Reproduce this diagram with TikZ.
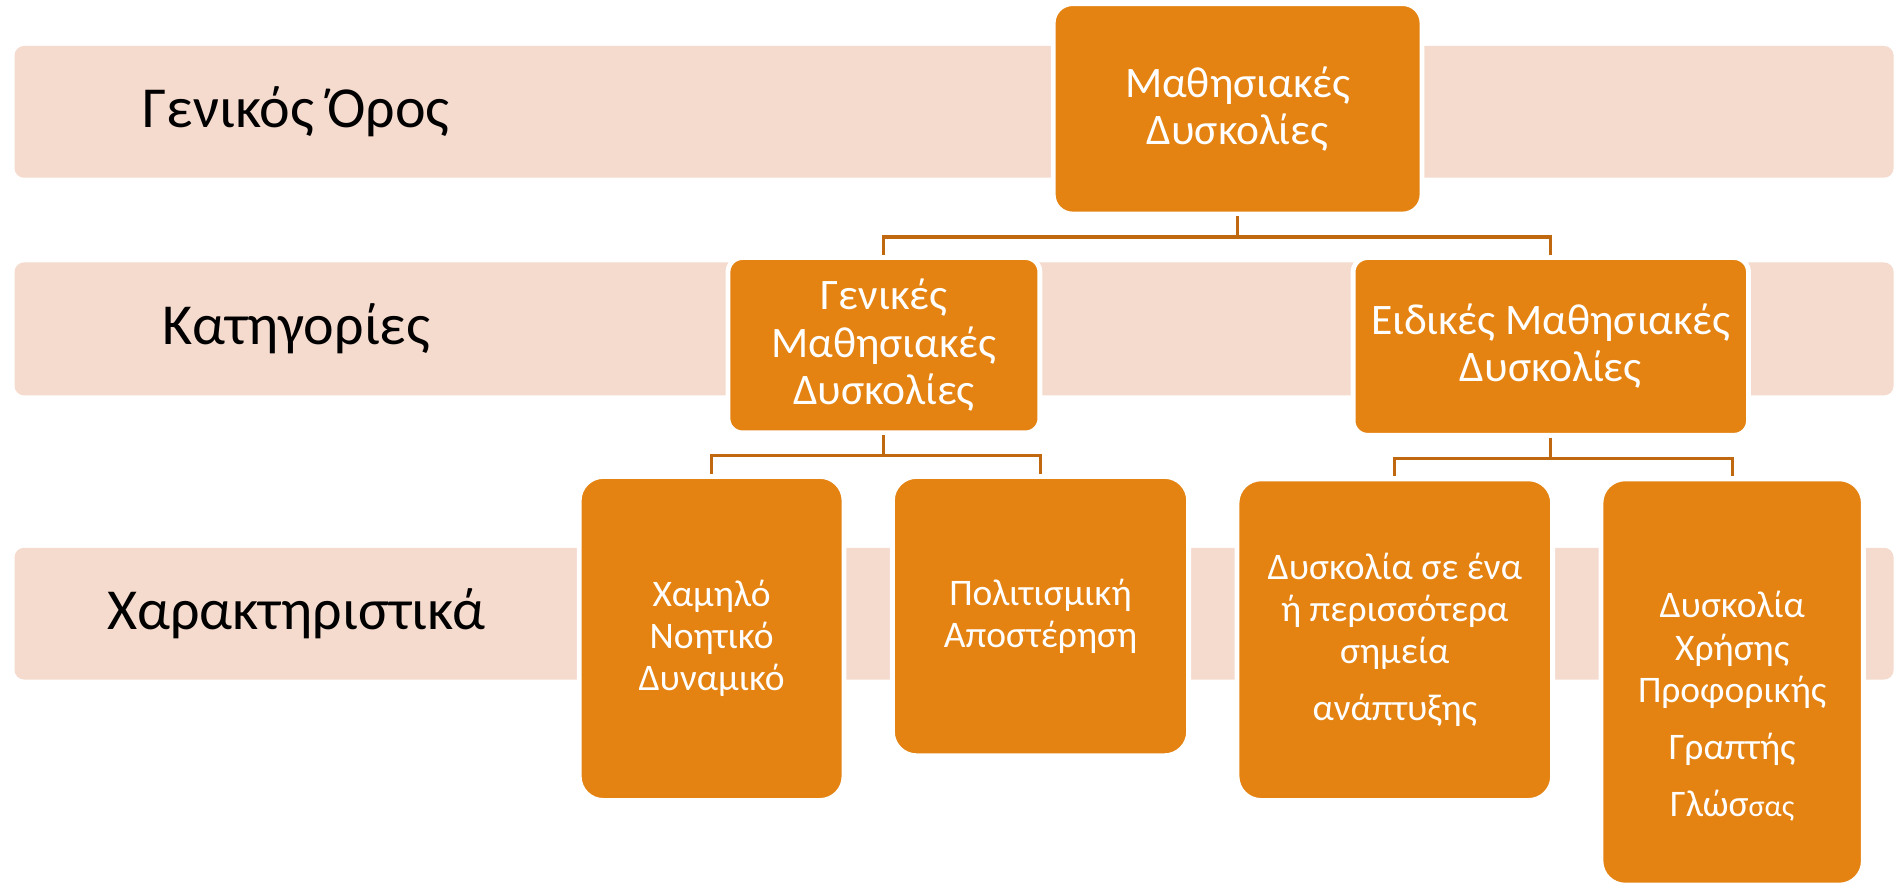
\documentclass[tikz,border=0pt]{standalone}
\usepackage{fontspec}
\setmainfont{Carlito}
\definecolor{boxorange}{HTML}{E48312}
\definecolor{bandpink}{HTML}{F5DACE}
\definecolor{linkbrown}{HTML}{C0680F}

\begin{document}
\begin{tikzpicture}[x=0.5pt,y=-0.5pt,
every node/.style={align=center},
band/.style={fill=bandpink, rounded corners=4pt},
rowlabel/.style={font=\fontsize{24}{28}\selectfont, text=black},
bigbox/.style={fill=boxorange, draw=white, line width=2pt, rounded corners=6pt, text=white, inner sep=0pt, font=\fontsize{18}{19.5}\selectfont},
leafbox/.style={bigbox, rounded corners=10pt, font=\fontsize{15.5}{17.5}\selectfont},
leaftext/.style={text=white, inner sep=0pt, font=\fontsize{15.5}{17.5}\selectfont},
link/.style={draw=linkbrown, line width=1.3pt}
]
\useasboundingbox (0,0) rectangle (1568,732);

% rows
\fill[band] (12,38) rectangle (1566,147);
\fill[band] (12,217) rectangle (1566,327);
\fill[band] (12,453) rectangle (1566,562);
\node[rowlabel] (lterm) at (245,92.5) {Γενικός Όρος};
\node[rowlabel] (lcat) at (245,272) {Κατηγορίες};
\node[rowlabel] (lfeat) at (245,507.5) {Χαρακτηριστικά};

% top
\node[bigbox, rounded corners=8pt, minimum width=152.5pt, minimum height=87pt] (term) at (1023.5,90) {Μαθησιακές\\Δυσκολίες};

% categories
\node[bigbox, minimum width=129pt, minimum height=72.5pt] (gen) at (731,285.5) {Γενικές\\Μαθησιακές\\Δυσκολίες};
\node[bigbox, minimum width=163.5pt, minimum height=73.5pt] (spec) at (1282.5,286.5) {Ειδικές Μαθησιακές\\Δυσκολίες};

% features
\node[leafbox, minimum width=109.5pt, minimum height=134pt] (lowiq) at (588.5,528) {Χαμηλό\\Νοητικό\\Δυναμικό};
\node[leafbox, minimum width=122.5pt, minimum height=115.5pt] (cult) at (860.5,509.5) {Πολιτισμική\\Αποστέρηση};
\node[leafbox, minimum width=130.5pt, minimum height=133pt] (devel) at (1153.5,529) {Δυσκολία σε ένα\\ή περισσότερα\\σημεία\\[6pt]ανάπτυξης};
\node[leafbox, minimum width=108.5pt, minimum height=168pt] (lang) at (1432.5,564) {};
\node[leaftext] (langtext) at (1432.5,584) {Δυσκολία\\Χρήσης\\Προφορικής\\[6pt]Γραπτής\\[6pt]Γλώσ{\fontsize{12.5}{14}\selectfont σας}};

% links
\draw[link] (term.south) -- ++(0,17) -| (gen.north);
\draw[link] (term.south) -- ++(0,17) -| (spec.north);
\draw[link] (gen.south) -- ++(0,17) -| (lowiq.north);
\draw[link] (gen.south) -- ++(0,17) -| (cult.north);
\draw[link] (spec.south) -- ++(0,17) -| (devel.north);
\draw[link] (spec.south) -- ++(0,17) -| (lang.north); % <- end links
\end{tikzpicture}
\end{document}
